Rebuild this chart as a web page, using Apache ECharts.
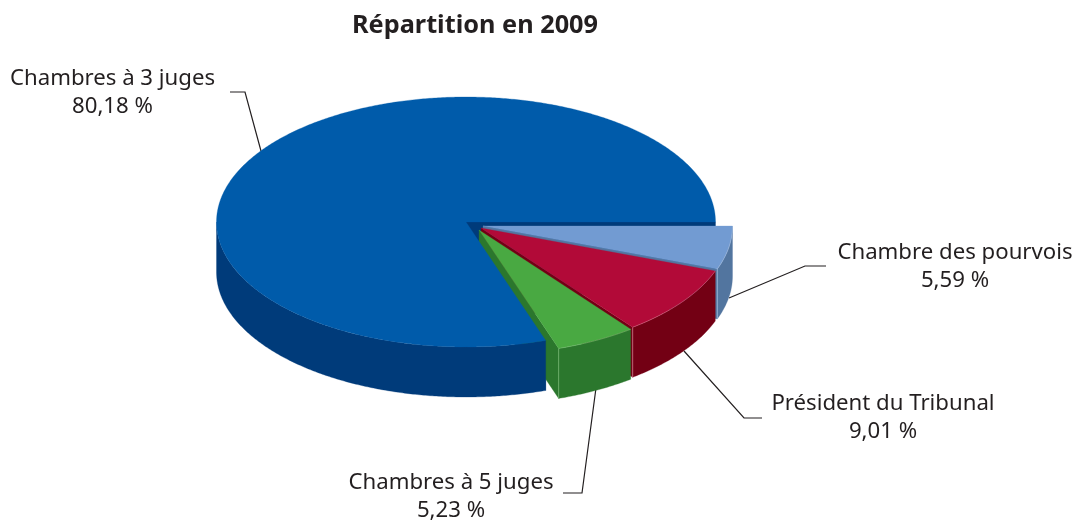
<!DOCTYPE html>
<html><head><meta charset="utf-8">
<style>html,body{margin:0;padding:0;background:#fff}#c{width:1077px;height:521px}</style>
<script src="https://cdn.jsdelivr.net/npm/echarts@6/dist/echarts.min.js"></script>
</head><body><div id="c"></div>
<script>
const categories = ['Chambre des pourvois', 'Président du Tribunal', 'Chambres à 5 juges', 'Chambres à 3 juges'];
const shares = [5.59, 9.01, 5.23, 80.18];
const titleText = 'Répartition en 2009';

// Drawing constants (not data)
const CX = 466, CY = 222, RX = 249.5, RY = 125, DEPTH = 50;
const topColors  = ['#729BD2', '#B20A38', '#49A942', '#005BAA'];
const sideColors = ['#52759F', '#730014', '#2B772D', '#003B7A'];
const edgeColors = ['#A9BEDC', '#D87A92', '#7DBD78', '#005BAA'];
const offsets = [[17, 4], [15, 6], [13, 8], [0, 0]];
const labelBoxes = [[955, 267], [883, 418], [451, 497], [112.5, 93]];
const leaders = [
  [[729, 298], [805, 266], [826, 266]],
  [[684, 351], [744, 418], [762, 418]],
  [[596, 388], [582, 493], [563, 493]],
  [[261, 151], [245, 92], [230, 92]]
];
const FONT = '"Noto Sans", sans-serif';

const total = shares.reduce((a, b) => a + b, 0);
let acc = 0;
const rows = shares.map((v, i) => { const r = [acc, v, i]; acc += v; return r; });

function rim(cx, cy, deg) {
  const t = deg * Math.PI / 180;
  return [cx + RX * Math.cos(t), cy + RY * Math.sin(t)];
}
function arc(cx, cy, a0, a1, dy) {
  const pts = [], n = Math.max(2, Math.ceil(Math.abs(a1 - a0) * 2));
  for (let k = 0; k <= n; k++) {
    const p = rim(cx, cy, a0 + (a1 - a0) * k / n);
    pts.push([p[0], p[1] + (dy || 0)]);
  }
  return pts;
}
function poly(points, fill, z2, stroke) {
  return { type: 'polygon', z2: z2, shape: { points: points },
    style: { fill: fill, stroke: stroke || fill, lineWidth: stroke ? 0.6 : 0.3 }, silent: true };
}
function line(points, color, width, z2) {
  return { type: 'polyline', z2: z2, shape: { points: points },
    style: { fill: null, stroke: color, lineWidth: width }, silent: true };
}
function renderSlice(params, api) {
  const i = api.value(2);
  const a0 = api.value(0) / total * 360, a1 = a0 + api.value(1) / total * 360;
  const cx = CX + offsets[i][0], cy = CY + offsets[i][1];
  const main = i === 3;
  const top = topColors[i], side = sideColors[i];
  const kids = [];
  const pEnd = rim(cx, cy, a1);

  if (main) {
    const p0 = rim(cx, cy, a0);
    const pStart = rim(cx, cy, 360);
    kids.push(poly([[cx, cy], pStart, [pStart[0], pStart[1] + DEPTH], [cx, cy + DEPTH]], side, 1));
    kids.push(poly([[cx, cy], p0, [p0[0], p0[1] + DEPTH], [cx, cy + DEPTH]], side, 1));
    const upper = arc(cx, cy, a0, 180, 0);
    const lower = arc(cx, cy, 180, a0, DEPTH);
    kids.push(poly(upper.concat(lower), side, 20));
    kids.push(poly([[cx, cy]].concat(arc(cx, cy, a0, a1, 0)), top, 21));
  } else {
    kids.push(poly([[cx, cy], pEnd, [pEnd[0], pEnd[1] + DEPTH], [cx, cy + DEPTH]], side, 5 + i));
    kids.push(poly(arc(cx, cy, a0, a1, 0).concat(arc(cx, cy, a1, a0, DEPTH)), side, 5 + i));
    kids.push(line([pEnd, [pEnd[0], pEnd[1] + DEPTH]], edgeColors[i], 0.7, 9 + i));
    kids.push(poly([[cx, cy]].concat(arc(cx, cy, a0, a1, 0)), top, 30 + i));
    kids.push(line(arc(cx, cy, a0, a1, 0), edgeColors[i], 0.5, 30 + i));
  }
  kids.push(line(leaders[i], '#231F20', 1.2, 0));
  const label = categories[i] + '\n' + api.value(1).toFixed(2).replace('.', ',') + ' %';
  kids.push({ type: 'text', z2: 50, silent: true,
    style: { x: labelBoxes[i][0], y: labelBoxes[i][1], text: label, fill: '#231F20',
      font: '22.2px ' + FONT, align: 'center', verticalAlign: 'middle', lineHeight: 28 } });
  return { type: 'group', children: kids };
}

const chart = echarts.init(document.getElementById('c'), null, { renderer: 'canvas' });
chart.setOption({
  animation: false,
  backgroundColor: '#fff',
  title: { text: titleText, left: 347, top: 8,
    textStyle: { fontFamily: FONT, fontSize: 25.3, fontWeight: 'bold', color: '#231F20' } },
  series: [{ type: 'custom', coordinateSystem: 'none', data: rows, renderItem: renderSlice, silent: true }]
});
</script></body></html>
